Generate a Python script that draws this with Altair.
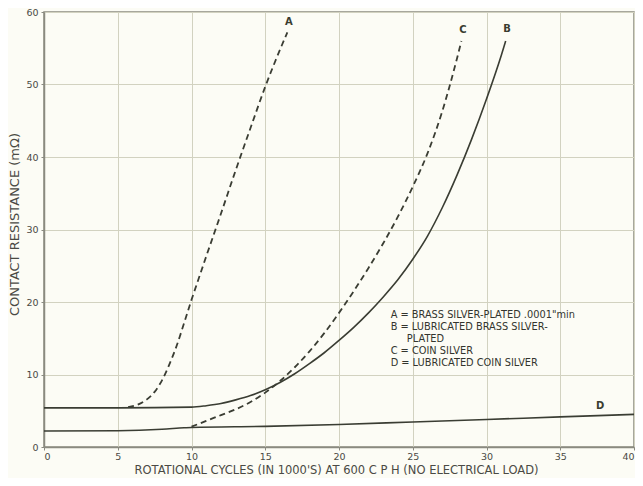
import altair as alt
import pandas as pd

# Curve A (dashed): brass silver-plated
a_x = [5.7, 6.3, 7.0, 7.5, 8.0, 8.5, 9.0, 9.5, 10.0, 10.5, 11.0, 12.0, 13.0, 14.0, 15.0, 16.0, 16.5]
a_y = [5.5, 5.8, 6.6, 7.6, 9.2, 11.4, 14.0, 17.1, 20.3, 23.3, 26.3, 32.2, 38.2, 44.0, 49.7, 54.8, 57.2]
# Curve B (solid): lubricated brass silver-plated
b_x = [0, 5, 10, 11, 12, 13, 14, 15, 16, 17, 18, 19, 20, 21, 22, 23, 24, 25, 26, 27, 28, 29, 30, 31, 31.3]
b_y = [5.4, 5.4, 5.5, 5.7, 6.0, 6.5, 7.1, 7.9, 8.9, 10.1, 11.5, 13.0, 14.7, 16.5, 18.5, 20.7, 23.1,
       25.9, 29.1, 33.0, 37.5, 42.5, 48.0, 54.0, 56.0]
# Curve C (dashed): coin silver
c_x = [10, 11, 12, 13, 14, 15, 16, 17, 18, 19, 20, 21, 22, 23, 24, 25, 26, 27, 28, 28.3]
c_y = [2.8, 3.6, 4.4, 5.2, 6.2, 7.5, 9.1, 11.0, 13.2, 15.7, 18.5, 21.5, 24.7, 28.1, 31.8, 35.9,
       40.5, 46.3, 53.6, 56.0]
# Curve D (solid): lubricated coin silver
d_x = [0, 5, 8, 9.5, 10, 15, 20, 25, 30, 35, 40]
d_y = [2.2, 2.25, 2.45, 2.65, 2.7, 2.85, 3.1, 3.45, 3.8, 4.15, 4.5]

# Curve letter labels
letter_text = ["A", "B", "C", "D"]
letter_x = [16.6, 31.4, 28.4, 37.7]
letter_y = [58.6, 57.6, 57.5, 5.7]

# Key text
key_text = ['A = BRASS SILVER-PLATED .0001"min', "B = LUBRICATED BRASS SILVER-",
            "PLATED", "C = COIN SILVER", "D = LUBRICATED COIN SILVER"]
key_x = [23.5, 23.5, 24.6, 23.5, 23.5]
key_y = [18.2, 16.55, 14.9, 13.25, 11.6]

x_ticks = [0, 5, 10, 15, 20, 25, 30, 35, 40]
y_ticks = [0, 10, 20, 30, 40, 50, 60]

rows = []
for name, style, xs, ys in [("A", "dash", a_x, a_y), ("B", "solid", b_x, b_y),
                            ("C", "dash", c_x, c_y), ("D", "solid", d_x, d_y)]:
    for xv, yv in zip(xs, ys):
        rows.append({"series": name, "style": style, "x": xv, "y": yv})
df = pd.DataFrame(rows)
letters = pd.DataFrame({"t": letter_text, "x": letter_x, "y": letter_y})
keys = pd.DataFrame({"t": key_text, "x": key_x, "y": key_y})

LINE = "#3a3d33"
TXT = "#4a4a44"
FONT = "DejaVu Sans"

xs = alt.Scale(domain=[0, 40], nice=False, zero=False)
ys = alt.Scale(domain=[0, 60], nice=False)

x_enc = alt.X("x:Q", scale=xs, axis=alt.Axis(
    values=x_ticks, title="ROTATIONAL CYCLES (IN 1000'S) AT 600 C P H (NO ELECTRICAL LOAD)",
    grid=True, tickSize=3, labelPadding=1, labelFontSize=9.5, labelColor=TXT,
    labelFont=FONT, titleFont=FONT, titleFontSize=11.5, titleFontWeight="normal",
    titleColor=TXT, titleX=292, titleY=23, titleBaseline="middle", titleAlign="center",
    labelFlush=True))
y_enc = alt.Y("y:Q", scale=ys, axis=alt.Axis(
    values=y_ticks, title="CONTACT RESISTANCE (mΩ)",
    grid=True, tickSize=3, labelPadding=3, labelFontSize=9.5, labelColor=TXT,
    labelFont=FONT, titleFont=FONT, titleFontSize=13, titleFontWeight="normal",
    titleColor=TXT, titleX=-30, titleY=212, titleAngle=-90, titleBaseline="middle",
    titleAlign="center", labelFlush=False))

solid = alt.Chart(df).transform_filter("datum.style == 'solid'").mark_line(
    color=LINE, strokeWidth=1.6, interpolate="monotone").encode(
    x=x_enc, y=y_enc, detail="series:N", order="x:Q")
dashed = alt.Chart(df).transform_filter("datum.style == 'dash'").mark_line(
    color=LINE, strokeWidth=1.8, strokeDash=[6, 4], interpolate="monotone").encode(
    x="x:Q", y="y:Q", detail="series:N", order="x:Q")
let_layer = alt.Chart(letters).mark_text(
    font=FONT, fontSize=10, fontWeight="bold", color="#3a3d30", baseline="middle", align="center").encode(
    x="x:Q", y="y:Q", text="t:N")
key_layer = alt.Chart(keys).mark_text(
    font=FONT, fontSize=9.8, color="#33352e", baseline="middle", align="left").encode(
    x="x:Q", y="y:Q", text="t:N")

chart = alt.layer(solid, dashed, let_layer, key_layer).properties(
    width=590, height=435,
    autosize=alt.AutoSizeParams(type="none"),
    padding={"left": 36, "top": 4, "right": 1, "bottom": 31},
    background="#fcfcf5",
).configure_view(stroke="#8a8a80", strokeWidth=1.5).configure_axis(
    gridColor="#d2d2c0", gridWidth=1, domainColor="#8a8a80", tickColor="#8a8a80",
    domainWidth=1.5)

chart.save("out.html", embed_options={"renderer": "svg", "actions": False})
